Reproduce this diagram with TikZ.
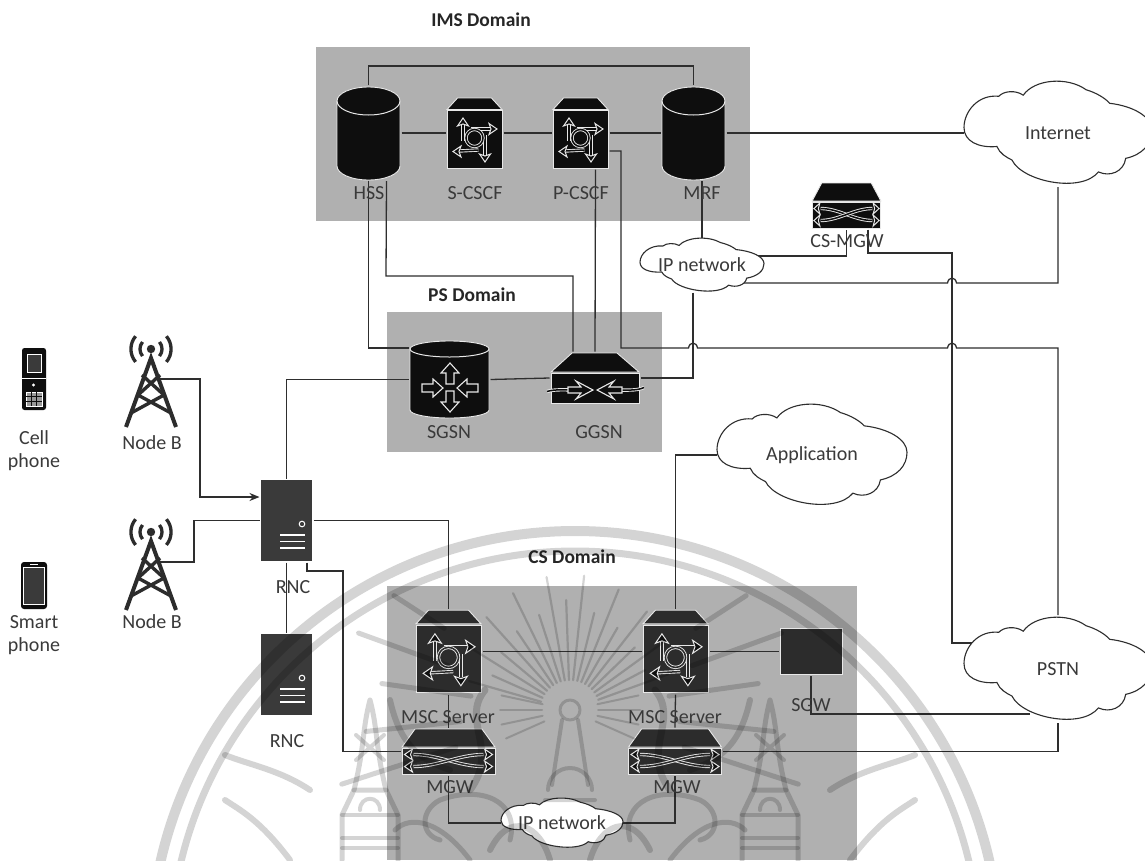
\documentclass[tikz,border=0pt]{standalone}
\usepackage{fontspec}
\setmainfont{Carlito}
\usetikzlibrary{arrows.meta}
\definecolor{domgrey}{HTML}{B0B0B0}
\definecolor{linec}{HTML}{2E2E2E}
\definecolor{textc}{HTML}{3A3A3A}
\definecolor{devA}{HTML}{0E0E0E}
\definecolor{devB}{HTML}{2C2C2C}
\definecolor{devC}{HTML}{3A3A3A}
\definecolor{halo}{HTML}{E8E8E8}
\tikzset{
  domainbox/.style={fill=domgrey,draw=none},
  conn/.style={draw=linec,line width=1.3pt,line join=miter},
  devbox/.style={draw=none,inner sep=0pt,outer sep=1.5pt,minimum width=#1},
  lab/.style={text=textc,font=\fontsize{20}{22}\selectfont,inner sep=0pt},
  titlelab/.style={text=black!85,font=\fontsize{19.5}{22}\selectfont\bfseries,inner sep=0pt},
  cloudtext/.style={text=textc,font=\fontsize{20}{22}\selectfont,inner sep=0pt,outer sep=0pt},
  bodyshape/.style={draw=halo,line width=.9pt},
  wline/.style={draw=halo,line width=.9pt,double=devA,double distance=1.5pt},
  wtip/.style={draw=halo,fill=devA,line width=1pt,line join=miter},
  wm/.style={draw=black,opacity=.17,line cap=round,line join=round},
}
% y grows downwards: 1 reference pixel = 1pt
\newcommand\hopat[2]{-- (#1-4.5,#2) .. controls (#1-3.5,#2-6.5) and (#1+3.5,#2-6.5) .. (#1+4.5,#2)}
\newcommand\headtip[3]{\path[wtip,shift={(#1,#2)},rotate=#3] (0,0) -- (-8,-5.5) -- (-6,0) -- (-8,5.5) -- cycle;}
\newcommand\blockarrow[3]{\draw[draw=halo,line width=1.1pt,line join=miter,shift={(#1,#2)},rotate=#3]
  (0,0) -- (-10,-9) -- (-10,-4) -- (-21,-4) -- (-21,4) -- (-10,4) -- (-10,9) -- cycle;}
\newcommand\cylinder[6]{% cx, top-ellipse cy, bottom-ellipse cy, rx, ry, colour
  \path[fill=#6,draw=halo,line width=.9pt] (#1-#4,#2) arc[start angle=180,end angle=0,x radius=#4pt,y radius=#5pt]
    -- (#1+#4,#3) arc[start angle=0,end angle=-180,x radius=#4pt,y radius=#5pt] -- cycle;
  \draw[halo,line width=1pt] (#1-#4,#2) arc[start angle=180,end angle=360,x radius=#4pt,y radius=#5pt];}
\newcommand\cscf[4]{% cx, cy, scale, colour
  \begin{scope}[shift={(#1,#2)},scale=#3]
  \path[bodyshape,fill=#4] (-17,-35) -- (17,-35) -- (27.5,-23.5) -- (-27.5,-23.5) -- cycle;
  \path[bodyshape,fill=#4] (-27.5,-22.5) rectangle (27.5,35);
  \draw[wline,double=#4] (-11.5,8) -- (-11.5,-9);
  \draw[wline,double=#4] (-4,-4) -- (16,-4);
  \draw[wline,double=#4] (4,17) -- (-15,18);
  \draw[wline,double=#4] (10.5,2) -- (10.5,22);
  \draw[wline,double=#4] (0,5) circle[radius=8.5];
  \headtip{-11.5}{-15}{90}
  \headtip{22.5}{-4}{0}
  \headtip{-21.5}{18.5}{180}
  \headtip{10.5}{29}{270}
  \end{scope}}
\newcommand\mgwicon[4]{% cx, cy, xscale, colour
  \begin{scope}[shift={(#1,#2)},xscale=#3]
  \path[bodyshape,fill=#4] (-33.5,-22.5) -- (33.5,-22.5) -- (46.5,-4.5) -- (-46.5,-4.5) -- cycle;
  \path[bodyshape,fill=#4] (-46.5,-3) rectangle (46.5,22.5);
  \draw[wline,double=#4] (-35,3) .. controls (-10,3) and (10,15) .. (35,15);
  \draw[wline,double=#4] (-35,15) .. controls (-10,15) and (10,3) .. (35,3);
  \headtip{-44}{3}{180}\headtip{-44}{15}{180}
  \headtip{44}{3}{0}\headtip{44}{15}{0}
  \end{scope}}
\newcommand\rncicon[3]{% cx, cy, colour
  \begin{scope}[shift={(#1,#2)}]
  \path[fill=#3] (-25.5,-40.5) rectangle (25.5,40.5);
  \draw[white,line width=1pt] (15.5,3.5) circle[radius=2.8];
  \foreach \yy in {14.5,21,27.5} \draw[white,line width=1.1pt] (-6.5,\yy) -- (18.5,\yy);
  \end{scope}}
\newcommand\towericon[2]{%
  \begin{scope}[shift={(#1,#2)}]
  \fill[devB] (0,0) circle[radius=4.2];
  \foreach \rr in {11,20}{
    \draw[devB,line width=3.3pt] (\rr*0.77,-\rr*0.64) arc[start angle=40,end angle=-40,radius=\rr pt];
    \draw[devB,line width=3.3pt] (-\rr*0.77,-\rr*0.64) arc[start angle=140,end angle=220,radius=\rr pt];}
  \draw[devB,line width=4pt,line join=miter] (-25,78) -- (0,9) -- (25,78);
  \draw[devB,line width=3.4pt] (-9,26) -- (13,46) (9,26) -- (-13,46);
  \draw[devB,line width=3.4pt] (-13,46) -- (20,64) (13,46) -- (-20,64);
  \end{scope}}
% name, cx, cy, half width, half height, text
\newcommand\cloudat[6]{%
  \begin{scope}[shift={(#2,#3)},x=#4pt,y=-#5pt]
  \path[fill=white,draw=linec,line width=1.1pt]
  (-1,-0.1) .. controls (-1,0.15) and (-0.85,0.28) .. (-0.65,0.25)
  .. controls (-0.62,0.38) and (-0.55,0.45) .. (-0.49,0.5)
  .. controls (-0.38,0.9) and (0.25,1.12) .. (0.43,0.72)
  .. controls (0.55,0.82) and (0.7,0.72) .. (0.72,0.47)
  .. controls (0.9,0.4) and (1,0.2) .. (1,-0.05)
  .. controls (1,-0.3) and (0.8,-0.5) .. (0.55,-0.55)
  .. controls (0.5,-0.65) and (0.4,-0.75) .. (0.3,-0.8)
  .. controls (0.1,-1.05) and (-0.25,-1.0) .. (-0.37,-0.7)
  .. controls (-0.45,-0.8) and (-0.58,-0.78) .. (-0.63,-0.68)
  .. controls (-0.85,-0.72) and (-1,-0.4) .. (-1,-0.1) -- cycle;
  \end{scope}
  \node[cloudtext] at (#2,#3) {#6};}
\begin{document}
\begin{tikzpicture}[x=1pt,y=-1pt]
\useasboundingbox (0,0) rectangle (1145,860);
\path[fill=white] (0,0) rectangle (1145,860);
% domains
\path[domainbox] (316,47) rectangle (750,221);
\path[domainbox] (387,312) rectangle (662,452);
\path[domainbox] (387,586) rectangle (857,860);
% anchor nodes
\node[devbox=63pt,minimum height=93pt] (hss) at (368.5,133) {};
\node[devbox=55pt,minimum height=70pt] (scscf) at (474.5,133) {};
\node[devbox=55pt,minimum height=70pt] (pcscf) at (580.5,133) {};
\node[devbox=63pt,minimum height=93pt] (mrf) at (693.5,133) {};
\node[devbox=69pt,minimum height=45pt] (csmgw) at (846.5,205.5) {};
\node[devbox=79pt,minimum height=77pt] (sgsn) at (449.5,379.5) {};
\node[devbox=88pt,minimum height=50pt] (ggsn) at (595,378) {};
\node[devbox=51pt,minimum height=81pt] (rnc1) at (286.5,520.5) {};
\node[devbox=51pt,minimum height=81pt] (rnc2) at (286.5,674.5) {};
\node[devbox=65pt,minimum height=83pt] (msc1) at (448.5,651.5) {};
\node[devbox=65pt,minimum height=83pt] (msc2) at (675.5,651.5) {};
\node[devbox=62pt,minimum height=46pt] (sgw) at (811,651.5) {};
\node[devbox=93pt,minimum height=45pt] (mgw1) at (448.5,751.5) {};
\node[devbox=93pt,minimum height=45pt] (mgw2) at (675,751.5) {};
\node[devbox=188pt,minimum height=108pt,outer sep=0pt] (inet) at (1058,133) {};
\node[devbox=188pt,minimum height=108pt,outer sep=0pt] (pstn) at (1058,669) {};
\node[devbox=190pt,minimum height=106pt,outer sep=0pt] (app) at (812,455) {};
\node[devbox=124pt,minimum height=55pt,outer sep=0pt] (ipa) at (702,265) {};
\node[devbox=122pt,minimum height=52pt,outer sep=0pt] (ipb) at (562,823) {};
\coordinate (nba) at (160,379);
\coordinate (nbb) at (160,562);
\coordinate (ipaone) at (752,256);
\coordinate (ipatwo) at (735,283);
\coordinate (pstnone) at (1012,643);
\coordinate (pstntwo) at (1030,714);
% connectors
\draw[conn] (hss.north) -- ++(0,-19) -| (mrf.north);
\draw[conn] (hss.east) -- (scscf.west);
\draw[conn] (scscf.east) -- (pcscf.west);
\draw[conn] (pcscf.east) -- (mrf.west);
\draw[conn] (mrf.east) -- (inet.west);
\draw[conn] (hss.south) |- ([yshift=31.5pt]sgsn.west);
\draw[conn] ([xshift=18pt]hss.south) -- (386,276) -- (573,276) -- ([xshift=-22pt]ggsn.north);
\draw[conn] ([xshift=15pt]pcscf.south) -- (ggsn.north);
\draw[conn] ([yshift=-18pt]pcscf.east) -- (621,151) -- (621,348) \hopat{693}{348} \hopat{952}{348} -- (1058,348) -- (pstn.north);
\draw[conn] ([xshift=8.5pt]mrf.south) -- (ipa.north);
\draw[conn] ([xshift=-9pt]ipa.south) |- (ggsn.east);
\draw[conn] (ipaone) -| (csmgw.south);
\draw[conn] (ipatwo) \hopat{952}{283} -- (1058,283) -- (inet.south);
\draw[conn] ([xshift=21.5pt]csmgw.south) -- (868,253) -- (952,253) -- (952,643) -- (pstnone);
\draw[conn] (sgsn.east) -- (ggsn.west);
\draw[conn] (rnc1.north) |- (sgsn.west);
\draw[conn,-{Stealth[length=10pt,width=8pt]}] (nba) -- (200,379) -- (200,497) -- ([yshift=23.5pt]rnc1.west);
\draw[conn] (nbb) -- (194,562) -- (194,520.5) -- (rnc1.west);
\draw[conn] (rnc1.south) -- (rnc2.north);
\draw[conn] (rnc1.east) -| (msc1.north);
\draw[conn] ([xshift=20.5pt]rnc1.south) -- (307,571) -- (343,571) -- (343,751.5) -- (mgw1.west);
\draw[conn] (msc1.south) -- (mgw1.north);
\draw[conn] (msc2.south) -- (mgw2.north);
\draw[conn] (msc1.east) -- (msc2.west);
\draw[conn] (msc2.east) -- (sgw.west);
\draw[conn] (msc2.north) |- (app.west);
\draw[conn] (sgw.south) |- (pstntwo);
\draw[conn] (mgw2.east) -| (pstn.south);
\draw[conn] (mgw1.south) |- (ipb.west);
\draw[conn] (ipb.east) -| (mgw2.south);
% clouds
\cloudat{inet}{1058}{133}{94}{54}{Internet}
\cloudat{pstn}{1058}{669}{94}{54}{PSTN}
\cloudat{app}{812}{455}{95}{53}{Application}
\cloudat{ipa}{702}{265}{62}{28}{IP network}
\cloudat{ipb}{562}{823}{61}{26}{IP network}
% IMS devices
\cylinder{368.5}{101}{166}{31.5}{14}{devA}
\cylinder{693.5}{101}{166}{31.5}{14}{devA}
\cscf{474.5}{133}{1}{devA}
\cscf{580.5}{133}{1}{devA}
% CS-MGW
\mgwicon{846.5}{205.5}{0.74}{devA}
% SGSN
\cylinder{449.5}{349}{410}{39.5}{8}{devA}
\blockarrow{450}{363}{90}
\blockarrow{450}{412}{270}
\blockarrow{443}{388}{0}
\blockarrow{457}{388}{180}
% GGSN
\path[bodyshape,fill=devA] (572,353) -- (617,353) -- (639,372) -- (551,372) -- cycle;
\path[bodyshape,fill=devA] (551,373.5) rectangle (639,403);
\draw[wline] (547,391.5) .. controls (555,389) and (565,390) .. (578,390);
\draw[wline] (612,390) .. controls (625,390) and (637,391) .. (644,387.5);
\draw[draw=halo,fill=devA,line width=1.1pt,line join=miter] (593,390) -- (576,381) -- (581,387) -- (568,387) -- (568,393) -- (581,393) -- (576,399) -- cycle;
\draw[draw=halo,fill=devA,line width=1.1pt,line join=miter] (597,390) -- (614,381) -- (609,387) -- (622,387) -- (622,393) -- (609,393) -- (614,399) -- cycle;
% RNC
\rncicon{286.5}{520.5}{devC}
\rncicon{286.5}{674.5}{devC}
% CS devices
\cscf{448.5}{651.5}{1.18}{devB}
\cscf{675.5}{651.5}{1.18}{devB}
\path[bodyshape,fill=devB] (780,628) rectangle (842,674.5);
\mgwicon{448.5}{751.5}{1}{devB}
\mgwicon{675}{751.5}{1}{devB}
% towers
\towericon{151}{349}
\towericon{151}{532}
% cell phone
\path[fill=devA,rounded corners=2.5pt] (22,348) rectangle (46,410);
\path[fill=devC,draw=white,line width=.8pt] (27,354) rectangle (41.5,372);
\draw[white,line width=.7pt] (22,378) -- (46,378);
\fill[white] (33.5,385) circle[radius=1.6];
\path[draw=white,fill=white!60!black,line width=.8pt] (26,392) rectangle (42,406);
\foreach \vx in {31.3,36.6} \draw[devA,line width=.8pt] (\vx,392) -- (\vx,406);
\foreach \hy in {396.7,401.3} \draw[devA,line width=.8pt] (26,\hy) -- (42,\hy);
% smart phone
\path[fill=devA,rounded corners=3pt] (21,562) rectangle (47,609);
\path[fill=devC,draw=white,line width=.8pt] (23.5,567) rectangle (44.5,604);
\draw[white,line width=.8pt] (30,564.5) -- (38,564.5);
% labels
\node[titlelab] (timsd) at (481,20) {IMS Domain};
\node[titlelab] (tpsd) at (472,295) {PS Domain};
\node[titlelab] (tcsd) at (572,557) {CS Domain};
\node[lab] (lhss) at (369,193) {HSS};
\node[lab] (lscscf) at (475,193) {S-CSCF};
\node[lab] (lpcscf) at (581,193) {P-CSCF};
\node[lab] (lmrf) at (702,193) {MRF};
\node[lab] (lcsmgw) at (847,241) {CS-MGW};
\node[lab] (lsgsn) at (449,432) {SGSN};
\node[lab] (lggsn) at (599,432) {GGSN};
\node[lab] (lnba) at (152,443) {Node B};
\node[lab] (lnbb) at (152,622) {Node B};
\node[lab] (lrnca) at (293,587) {RNC};
\node[lab] (lrncb) at (287,741) {RNC};
\node[lab] (lmsca) at (448,717) {MSC Server};
\node[lab] (lmscb) at (675,717) {MSC Server};
\node[lab] (lsgw) at (811,705) {SGW};
\node[lab] (lmgwa) at (450,787) {MGW};
\node[lab] (lmgwb) at (677,787) {MGW};
\node[lab] (lcell) at (34,438) {Cell};
\node[lab] (lcellb) at (34,462) {phone};
\node[lab] (lsmart) at (34,622) {Smart};
\node[lab] (lsmartb) at (34,646) {phone};
% watermark
\begin{scope}
\clip (0,0) rectangle (1145,860);
\draw[wm,line width=10pt,line cap=butt] (575,956) circle[radius=425];
\draw[wm,line width=7pt,line cap=butt] (575,956) circle[radius=405];
\foreach \aa/\rr in {20/105,28/85,36/120,44/90,52/125,60/95,68/130,76/100,84/135,92/110,100/135,108/100,116/130,124/95,132/125,140/90,148/120,156/85,164/105}
  \draw[wm,line width=2.2pt] (570+30*cos \aa,710-30*sin \aa) -- (570+\rr*cos \aa,710-\rr*sin \aa);
\foreach \aa in {-24,-12,0,12,168,180,192,204}
  \draw[wm,line width=2pt] (570+28*cos \aa,710-28*sin \aa) -- (570+70*cos \aa,710-70*sin \aa);
\foreach \aa/\ra/\rb in {8/100/190,172/100/190,20/130/225,160/130/225,-6/110/205,186/110/205,-18/120/240,198/120/240,33/150/210,147/150/210}
  \draw[wm,line width=5pt] (570+\ra*cos \aa,710-\ra*sin \aa) -- (570+\rb*cos \aa,710-\rb*sin \aa);
\draw[wm,line width=3pt] (570,710) circle[radius=10];
\draw[wm,line width=4pt] (562,720) -- (552,785) (578,720) -- (588,785);
\draw[wm,line width=4pt] (548,790) arc[start angle=180,end angle=0,radius=22pt] (545,800) -- (595,800);
\foreach \xm in {1,-1}{
  \begin{scope}[shift={(570,0)},xscale=\xm]
  \draw[wm,line width=7pt] (85,690) .. controls (110,720) and (70,750) .. (100,790);
  \draw[wm,line width=5pt] (60,840) .. controls (50,800) and (90,785) .. (130,800) .. controls (150,810) and (150,835) .. (130,840);
  \draw[wm,line width=6pt] (20,860) .. controls (30,825) and (60,810) .. (80,850);
  \draw[wm,line width=6pt] (120,770) .. controls (150,760) and (170,745) .. (180,700);
  \draw[wm,line width=6pt] (260,790) .. controls (290,770) and (320,765) .. (345,755);
  \draw[wm,line width=6pt] (280,860) .. controls (310,820) and (330,810) .. (345,800);
  \draw[wm,line width=5pt] (100,860) .. controls (130,820) and (160,815) .. (175,830);
  \draw[wm,line width=5pt] (200,700) .. controls (192,730) and (195,745) .. (184,790) (200,700) .. controls (208,730) and (205,745) .. (216,790);
  \draw[wm,line width=4pt] (186,735) -- (214,760) (214,735) -- (186,760);
  \draw[wm,line width=5pt] (172,860) -- (172,815) -- (184,790) -- (216,790) -- (228,815) -- (228,860);
  \draw[wm,line width=4pt] (172,815) -- (228,815) (172,838) -- (228,838) (172,848) -- (228,848);
  \draw[wm,line width=4pt] (190,810) .. controls (190,795) and (210,795) .. (210,810);
  \end{scope}}
\end{scope}
\end{tikzpicture}
\end{document}
